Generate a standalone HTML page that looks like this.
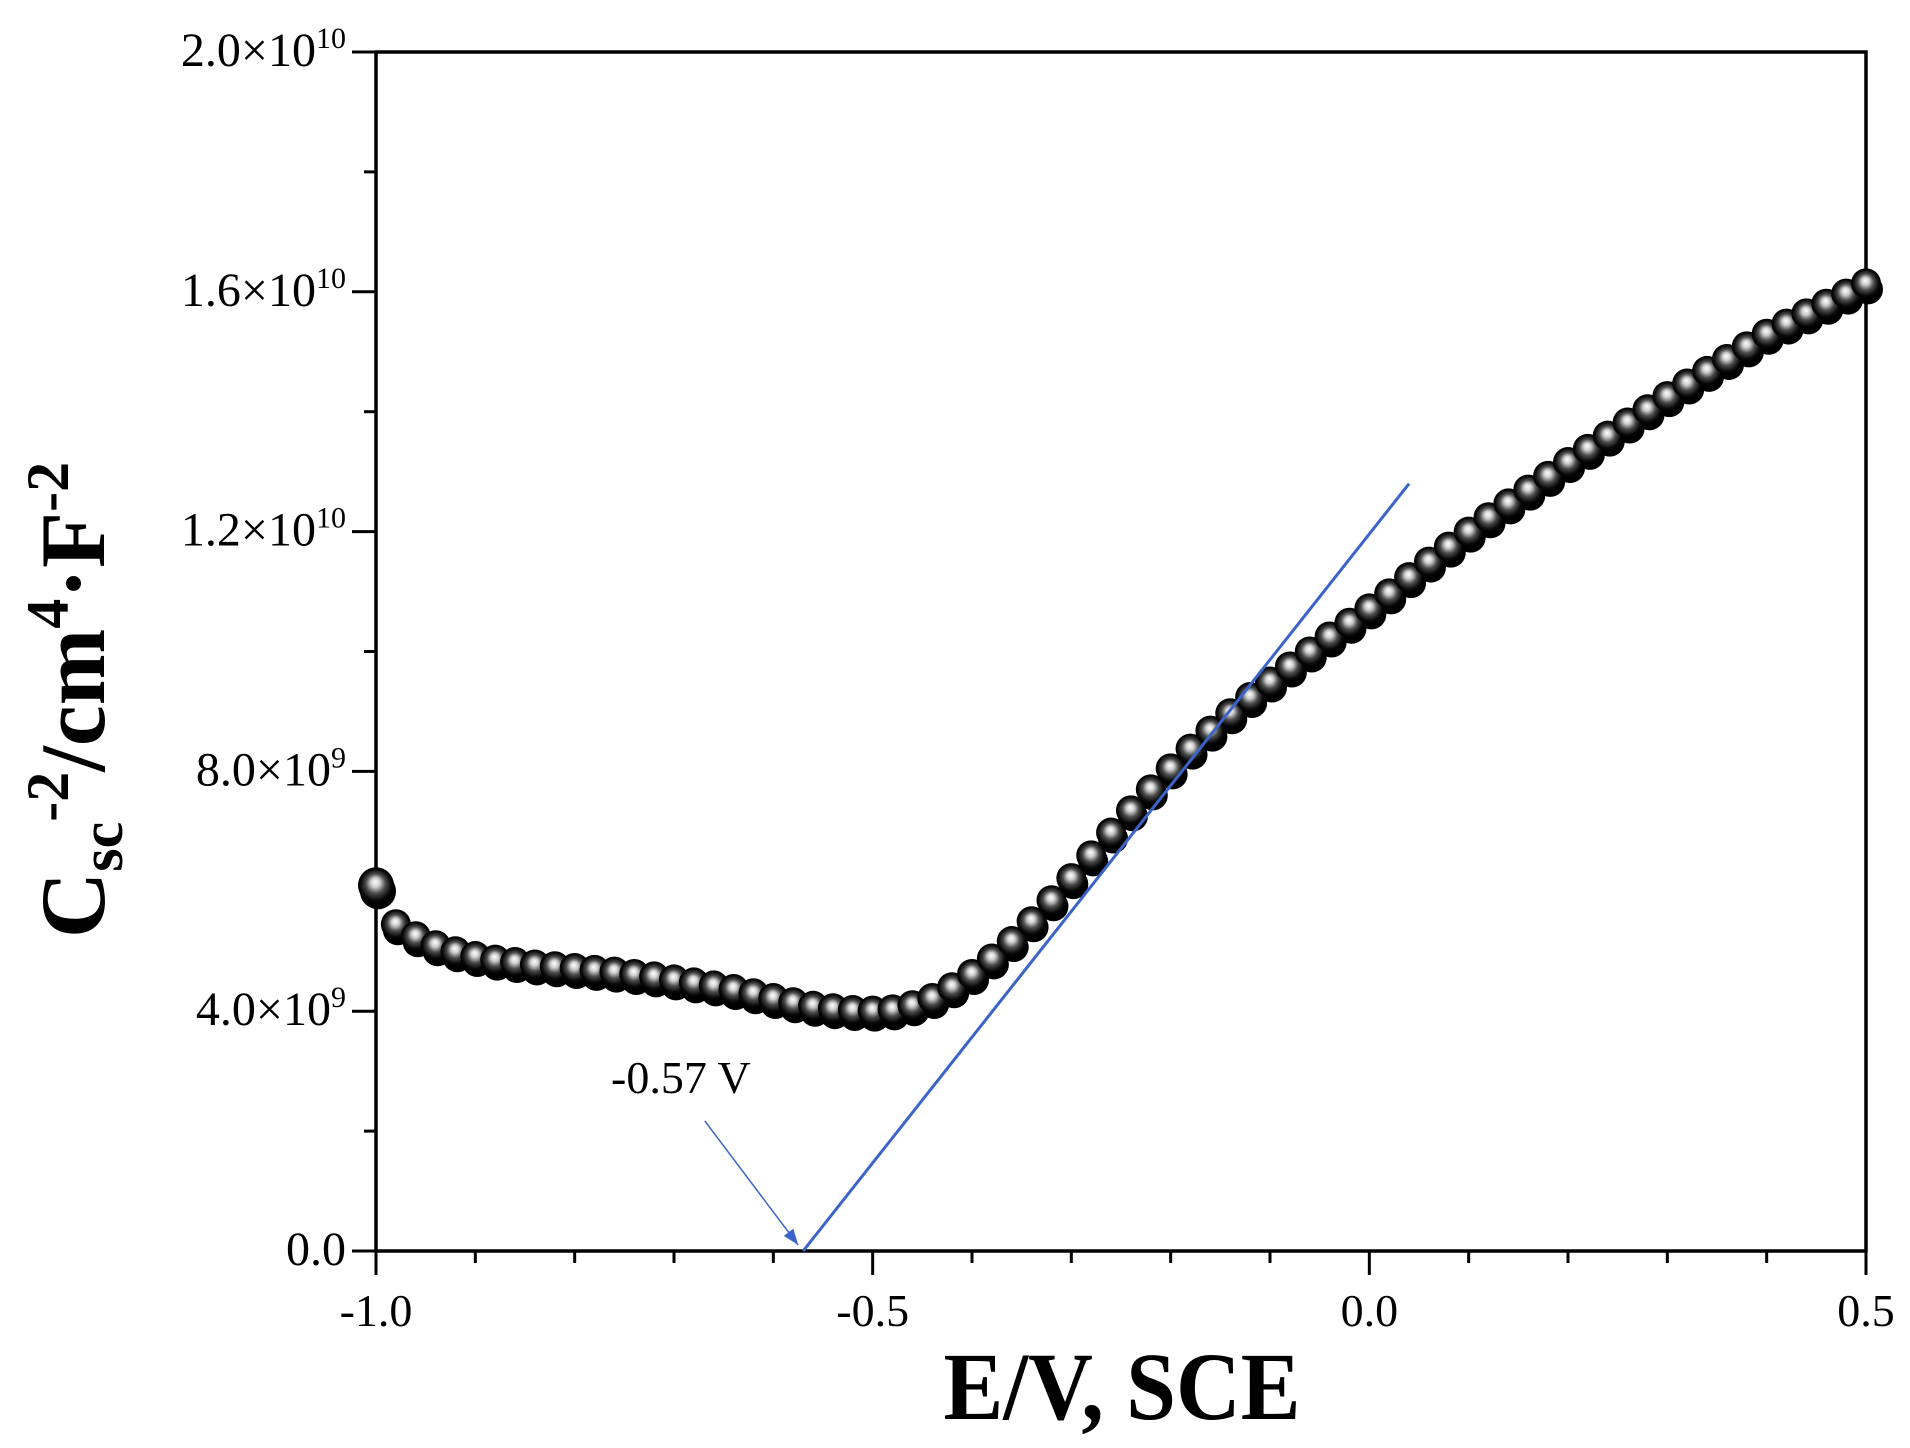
<!DOCTYPE html>
<html><head><meta charset="utf-8"><style>
html,body{margin:0;padding:0;background:#fff;}
svg{display:block;font-family:"Liberation Serif",serif;}
</style></head><body>
<svg id="chart" width="1910" height="1448" viewBox="0 0 1910 1448" xmlns="http://www.w3.org/2000/svg">
<defs>
<radialGradient id="ball" cx="0.5" cy="0.5" r="0.5" fx="0.48" fy="0.4">
<stop offset="0" stop-color="#ffffff"/>
<stop offset="0.25" stop-color="#cfcfcf"/>
<stop offset="0.55" stop-color="#4a4a4a"/>
<stop offset="0.85" stop-color="#0a0a0a"/>
<stop offset="1" stop-color="#000000"/>
</radialGradient>
</defs>
<g id="axes"></g>
<g id="shadows"></g>
<g id="points"></g>
<g id="annot"></g>
</svg>
<script>
const potentials = [-1.00,-0.98,-0.96,-0.94,-0.92,-0.90,-0.88,-0.86,-0.84,-0.82,-0.80,-0.78,-0.76,-0.74,-0.72,-0.70,-0.68,-0.66,-0.64,-0.62,-0.60,-0.58,-0.56,-0.54,-0.52,-0.50,-0.48,-0.46,-0.44,-0.42,-0.40,-0.38,-0.36,-0.34,-0.32,-0.30,-0.28,-0.26,-0.24,-0.22,-0.20,-0.18,-0.16,-0.14,-0.12,-0.10,-0.08,-0.06,-0.04,-0.02,0.00,0.02,0.04,0.06,0.08,0.10,0.12,0.14,0.16,0.18,0.20,0.22,0.24,0.26,0.28,0.30,0.32,0.34,0.36,0.38,0.40,0.42,0.44,0.46,0.48,0.50];
const csc2 = [6.1,5.45,5.25,5.1,5.0,4.92,4.86,4.82,4.78,4.75,4.72,4.69,4.66,4.62,4.58,4.53,4.48,4.43,4.37,4.3,4.22,4.15,4.09,4.05,4.02,4.01,4.03,4.1,4.22,4.4,4.62,4.88,5.17,5.5,5.85,6.22,6.6,6.98,7.35,7.7,8.05,8.38,8.68,8.97,9.24,9.5,9.75,10.0,10.25,10.48,10.72,10.97,11.24,11.5,11.75,12.0,12.24,12.47,12.7,12.93,13.16,13.38,13.6,13.82,14.04,14.26,14.47,14.68,14.88,15.09,15.3,15.47,15.64,15.8,15.97,16.14];
const xTickMajor = [-1.0,-0.5,0.0,0.5];
const xTickLabels = ["-1.0","-0.5","0.0","0.5"];
const yTickMajor = [0,4,8,12,16,20];
const yTickMant = ["0.0","4.0","8.0","1.2","1.6","2.0"];
const yTickExp = ["","9","9","10","10","10"];
const fitLine = [[-0.57,0],[0.04,12.8]];
const arrowLine = [[-0.669,2.17],[-0.575,0.1]];

const X0=376,X1=1866,Y0=1251,Y1=52;
const sx=v=>X0+(v+1)/1.5*(X1-X0);
const sy=v=>Y0-v/20*(Y0-Y1);
const NS="http://www.w3.org/2000/svg";
function mk(tag,attrs,parent){const e=document.createElementNS(NS,tag);for(const k in attrs)e.setAttribute(k,attrs[k]);parent.appendChild(e);return e;}
const ax=document.getElementById('axes');
let e=mk('rect',{x:X0,y:Y1,width:X1-X0,height:Y0-Y1,fill:'none',stroke:'#000','stroke-width':3.5},ax);


for(let i=0;i<=15;i++){const v=-1+i*0.1;const maj=i%5===0;
 e=mk('line',{x1:sx(v),x2:sx(v),y1:Y0,y2:Y0+(maj?24:12),stroke:'#000','stroke-width':3},ax);
 
 }
xTickMajor.forEach((v,i)=>{e=mk('text',{x:sx(v),y:1326,'font-size':46,'text-anchor':'middle'},ax);e.textContent=xTickLabels[i];
 
 });
for(let i=0;i<=10;i++){const v=i*2;const maj=i%2===0;
 e=mk('line',{x1:X0-(maj?24:12),x2:X0,y1:sy(v),y2:sy(v),stroke:'#000','stroke-width':3},ax);
 
 }
yTickMajor.forEach((v,i)=>{e=mk('text',{x:346,y:sy(v)+14,'font-size':48,'text-anchor':'end'},ax);
 if(yTickExp[i]){e.innerHTML=yTickMant[i]+'\u00d710<tspan dy="-18" font-size="30">'+yTickExp[i]+'</tspan>';}
 else e.textContent=yTickMant[i];
 
 });
e=mk('text',{x:1122,y:1419,'font-size':96,'font-weight':'bold','text-anchor':'middle',textLength:357,lengthAdjust:'spacingAndGlyphs'},ax);
e.textContent='E/V, SCE';


e=mk('text',{x:0,y:0,'font-size':92,'font-weight':'bold','text-anchor':'middle',transform:'translate(104,700) rotate(-90)'},ax);
e.innerHTML='C<tspan dy="18" font-size="60">sc</tspan><tspan dy="-54" font-size="60">-2</tspan><tspan dy="36">/cm</tspan><tspan dy="-36" font-size="60">4</tspan><tspan dy="36">\u00b7F</tspan><tspan dy="-36" font-size="60">-2</tspan>';



const sg=document.getElementById('shadows');
const pg=document.getElementById('points');
potentials.forEach((p,i)=>{const r=i===0?18:15;
 e=mk('circle',{cx:sx(p)+2,cy:sy(csc2[i])+6,r:r,fill:'#000'},sg);
 
 
 e=mk('circle',{cx:sx(p),cy:sy(csc2[i]),r:r,fill:'url(#ball)'},pg);
 
 });

const an=document.getElementById('annot');
e=mk('line',{x1:sx(fitLine[0][0]),y1:sy(fitLine[0][1]),x2:sx(fitLine[1][0]),y2:sy(fitLine[1][1]),stroke:'#3b64c8','stroke-width':3},an);


const ax1=sx(arrowLine[0][0]),ay1=sy(arrowLine[0][1]),ax2=sx(arrowLine[1][0]),ay2=sy(arrowLine[1][1]);
e=mk('line',{x1:ax1,y1:ay1,x2:ax2,y2:ay2,stroke:'#3b64c8','stroke-width':1.5},an);


const ang=Math.atan2(ay2-ay1,ax2-ax1),L=16,W=6;
const bx=ax2-L*Math.cos(ang),by=ay2-L*Math.sin(ang);
e=mk('polygon',{points:`${ax2},${ay2} ${bx-W*Math.sin(ang)},${by+W*Math.cos(ang)} ${bx+W*Math.sin(ang)},${by-W*Math.cos(ang)}`,fill:'#3b64c8'},an);


e=mk('text',{x:611,y:1093,'font-size':46},an);
e.textContent='-0.57 V';


</script>
</body></html>
